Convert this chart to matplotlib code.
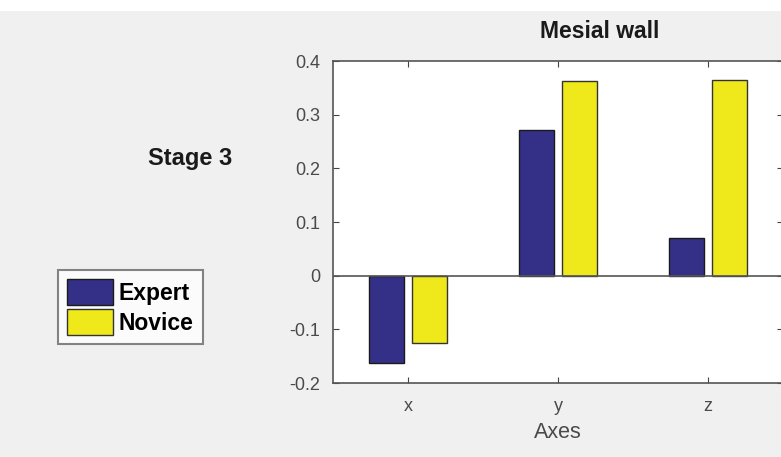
import matplotlib
matplotlib.use("Agg")
import matplotlib.pyplot as plt
import numpy as np
from matplotlib.patches import Rectangle

categories = ["x", "y", "z"]
expert = [-0.162, 0.272, 0.071]
novice = [-0.125, 0.363, 0.365]
yticks = [-0.2, -0.1, 0, 0.1, 0.2, 0.3, 0.4]
ytick_labels = ["-0.2", "-0.1", "0", "0.1", "0.2", "0.3", "0.4"]

plt.rcParams['font.family'] = ['Liberation Sans', 'DejaVu Sans']

W, H = 781, 457
fig = plt.figure(figsize=(W / 100, H / 100), dpi=100, facecolor='#f0f0f0')
fig.patches.append(Rectangle((0, 1 - 11 / H), 1, 11 / H, transform=fig.transFigure,
                             facecolor='white', edgecolor='none', zorder=0))

ax = fig.add_axes([333 / W, 74 / H, 450 / W, 322 / H])
ax.set_facecolor('white')

xpos = np.arange(1, len(categories) + 1)
off = 0.143
bw = 0.229
b1 = ax.bar(xpos - off, expert, bw, color='#343088', edgecolor='#1a1a1a', linewidth=1, label='Expert', zorder=2)
b2 = ax.bar(xpos + off, novice, bw, color='#efe81a', edgecolor='#333333', linewidth=1, label='Novice', zorder=2)
ax.axhline(0, color='#555555', lw=1.2, zorder=3)

ax.set_xlim(0.5, 3.5)
ax.set_ylim(-0.2, 0.4)
ax.set_xticks(xpos)
ax.set_xticklabels(categories)
ax.set_yticks(yticks)
ax.set_yticklabels(ytick_labels)
ax.tick_params(direction='in', length=4, top=True, right=True, color='#444444',
               labelcolor='#4a4a4a', labelsize=13)
ax.tick_params(axis='y', pad=9)
ax.tick_params(axis='x', pad=11)
for s in ax.spines.values():
    s.set_color('#555555')
    s.set_linewidth(1.2)
ax.set_xlabel('Axes', fontsize=15.5, color='#4a4a4a', labelpad=5)

fig.text(600 / W, 1 - 31 / H, 'Mesial wall', ha='center', va='center', fontsize=16.5,
         fontweight='bold', color='#1a1a1a')
fig.text(190 / W, 1 - 158 / H, 'Stage 3', ha='center', va='center', fontsize=17,
         fontweight='bold', color='#1a1a1a')

leg = fig.legend(handles=[b1, b2], labels=['Expert', 'Novice'],
                 loc='upper left', bbox_to_anchor=(58 / W, 1 - 270 / H),
                 bbox_transform=fig.transFigure, frameon=True, fancybox=False,
                 prop={'weight': 'bold', 'size': 16.5}, handlelength=2.0, handleheight=1.35,
                 handletextpad=0.25, borderpad=0.4, labelspacing=0.2, borderaxespad=0)
leg.get_frame().set_edgecolor('#666666')
leg.get_frame().set_linewidth(1.5)
leg.get_frame().set_facecolor('white')

fig.savefig('out.png', dpi=100, facecolor=fig.get_facecolor())
